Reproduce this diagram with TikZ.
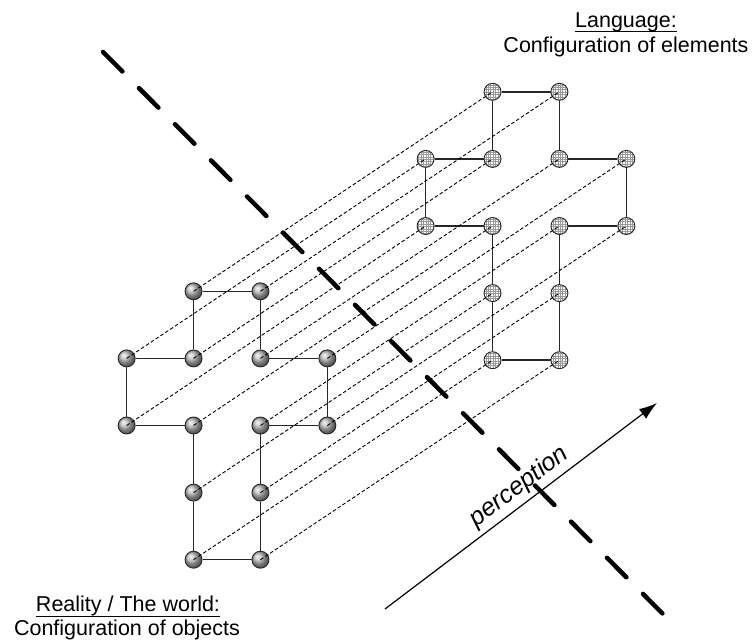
\documentclass[tikz,border=0pt]{standalone}
\usepackage{fontspec}
\setmainfont{Liberation Sans}
\usetikzlibrary{matrix, arrows.meta, patterns}

\pgfdeclarepatternformonly{fine grid}{\pgfqpoint{-0.1pt}{-0.1pt}}{\pgfqpoint{1.3pt}{1.3pt}}{\pgfqpoint{1.2pt}{1.2pt}}{%
    \pgfsetlinewidth{0.3pt}
    \pgfpathmoveto{\pgfqpoint{0pt}{0.6pt}}\pgfpathlineto{\pgfqpoint{1.2pt}{0.6pt}}
    \pgfpathmoveto{\pgfqpoint{0.6pt}{0pt}}\pgfpathlineto{\pgfqpoint{0.6pt}{1.2pt}}
    \pgfusepath{stroke}}

\newcommand{\underlined}[1]{\setbox0\hbox{#1}\rlap{\rule[-2.6pt]{\wd0}{0.6pt}}\box0}

\tikzset{%
    grid matrix/.style={%
        matrix of nodes,
        column sep=24.5pt,
        row sep=24.6pt
    },
    object/.style={%
        circle, draw=black!85, line width=0.45pt, inner sep=0pt,
        minimum size=8.5pt, shading=ball, ball color=gray!55
    },
    element/.style={%
        circle, draw=black!85, line width=0.45pt, inner sep=0pt,
        minimum size=8.5pt, preaction={fill=white},
        pattern=fine grid, pattern color=gray!80
    },
    edge/.style={line width=0.75pt, draw=black!85},
    projection/.style={line width=0.45pt, dash pattern=on 1.8pt off 1.1pt},
    divider/.style={line width=2.25pt, line cap=round, dash pattern=on 13.75pt off 11.75pt},
    label text/.style={font=\fontsize{10.75pt}{13pt}\selectfont, inner sep=0pt, anchor=base}
}

\begin{document}
\begin{tikzpicture}[x=0.5pt, y=-0.5pt]
\useasboundingbox (0,0) rectangle (752,643);

% reality (left) and language (right)
\matrix[grid matrix, nodes={object}] (W) at (227,425.5) {
   & {} & {} &    \\
{} & {} & {} & {} \\
{} & {} & {} & {} \\
   & {} & {} &    \\
   & {} & {} &    \\
};
\matrix[grid matrix, nodes={element}] (E) at (526,226) {
   & {} & {} &    \\
{} & {} & {} & {} \\
{} & {} & {} & {} \\
   & {} & {} &    \\
   & {} & {} &    \\
};

\foreach \m in {W,E}
    \draw[edge] (\m-1-2) -- (\m-1-3) -- (\m-2-3) -- (\m-2-4) -- (\m-3-4) -- (\m-3-3)
        -- (\m-4-3) -- (\m-5-3) -- (\m-5-2) -- (\m-4-2) -- (\m-3-2) -- (\m-3-1)
        -- (\m-2-1) -- (\m-2-2) -- (\m-1-2);

\foreach \c in {1-2,1-3,2-1,2-2,2-3,2-4,3-1,3-2,3-3,3-4,4-2,4-3,5-2,5-3}
    \draw[projection] (W-\c.center) -- (E-\c.center);

\draw[divider] (103,52) -- (667,618);

\coordinate (p0) at (385,609);
\coordinate (p1) at (657,403);
\draw[line width=0.6pt, -{Latex[length=9pt, width=6pt]}] (p0) -- node[sloped, above, pos=0.53, inner sep=2pt,
    font=\fontsize{12.5pt}{14pt}\selectfont\itshape] {perception} (p1);

\node[label text] (language) at (626,27) {\underlined{Language:}};
\node[label text] (elements) at (626,52) {Configuration of elements};
\node[label text] (reality) at (128,611.5) {\underlined{Reality / The world:}};
\node[label text] (objects) at (127,635) {Configuration of objects};
\end{tikzpicture}
\end{document}
